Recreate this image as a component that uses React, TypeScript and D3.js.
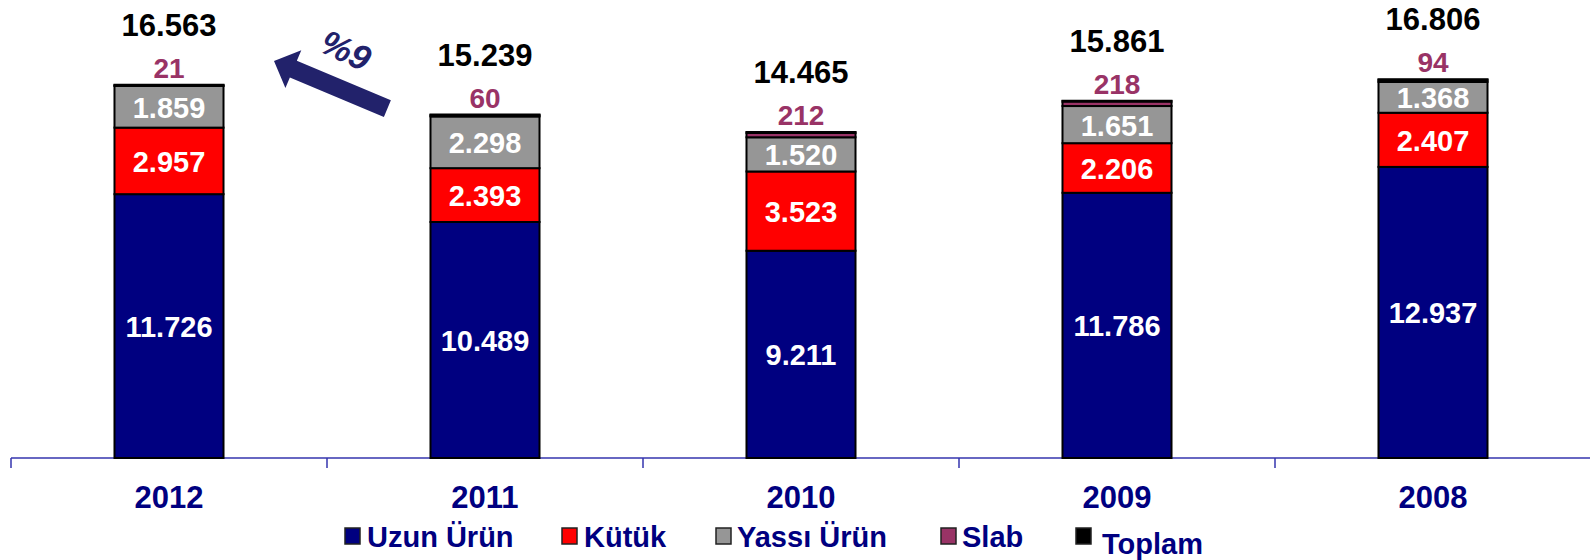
import React from "react";
import * as d3 from "d3";

const years = ["2012", "2011", "2010", "2009", "2008"];
const uzun = [11726, 10489, 9211, 11786, 12937];
const kutuk = [2957, 2393, 3523, 2206, 2407];
const yassi = [1859, 2298, 1520, 1651, 1368];
const slab = [21, 60, 212, 218, 94];
const toplam = [16563, 15239, 14465, 15861, 16806];

const seriesNames = ["Uzun Ürün", "Kütük", "Yassı Ürün", "Slab", "Toplam"];
const seriesColors = ["#000080", "#FF0000", "#969696", "#993366", "#000000"];

const W = 1590;
const H = 560;
const FONT = "'Liberation Sans', Arial, Helvetica, sans-serif";
const NAVY = "#000080";

const locale = d3.formatLocale({ decimal: ",", thousands: ".", grouping: [3], currency: ["", ""] });
const fmt = locale.format(",d");

export default function App() {
  const x = d3.scaleBand<string>().domain(years).range([11, 1591]).paddingInner(0.655).paddingOuter(0.3275);
  const y = d3.scaleLinear().domain([0, 20000]).range([458, 8]);
  const step = x.step();
  const bw = x.bandwidth();

  const rows = years.map((yr, i) => ({ year: yr, Uzun: uzun[i], Kutuk: kutuk[i], Yassi: yassi[i], Slab: slab[i] }));
  const keys = ["Uzun", "Kutuk", "Yassi", "Slab"];
  const stack = d3.stack<any>().keys(keys)(rows);

  const legendItems = [
    { mx: 345, tx: 367 },
    { mx: 562, tx: 584 },
    { mx: 716, tx: 737 },
    { mx: 941, tx: 962 },
    { mx: 1076, tx: 1102 },
  ];

  return (
    <svg width={W} height={H} style={{ position: "absolute", left: 0, top: 0, display: "block", background: "#fff" }} fontFamily={FONT}>
      {/* axis */}
      <line x1={11} x2={W} y1={y(0)} y2={y(0)} stroke="#3434AE" strokeWidth={1.5} />
      {d3.range(years.length + 1).map((i) => (
        <line key={i} x1={11 + i * step} x2={11 + i * step} y1={y(0)} y2={y(0) + 10} stroke="#3434AE" strokeWidth={1.5} />
      ))}
      {/* bars */}
      {stack.map((layer, li) =>
        layer.map((d, i) => {
          const x0 = x(years[i])!;
          const y0 = y(d[1]);
          const h = y(d[0]) - y(d[1]);
          return (
            <rect key={li + "-" + i} x={x0} y={y0} width={bw} height={h} fill={seriesColors[li]} stroke="#000" strokeWidth={2} />
          );
        })
      )}
      {/* toplam top line */}
      {years.map((yr, i) => (
        <line key={"t" + i} x1={x(yr)! - 1} x2={x(yr)! + bw + 1} y1={y(toplam[i])} y2={y(toplam[i])} stroke="#000" strokeWidth={3} />
      ))}
      {/* segment labels */}
      {stack.slice(0, 3).map((layer, li) =>
        layer.map((d, i) => (
          <text key={"l" + li + i} x={x(years[i])! + bw / 2} y={(y(d[0]) + y(d[1])) / 2 + 1} textAnchor="middle" dominantBaseline="central" fill="#fff" fontWeight="bold" fontSize={29}>
            {fmt(d[1] - d[0])}
          </text>
        ))
      )}
      {/* slab labels */}
      {years.map((yr, i) => (
        <text key={"s" + i} x={x(yr)! + bw / 2} y={y(toplam[i]) - 17} textAnchor="middle" dominantBaseline="central" fill="#993366" fontWeight="bold" fontSize={28}>
          {fmt(slab[i])}
        </text>
      ))}
      {/* totals */}
      {years.map((yr, i) => (
        <text key={"T" + i} x={x(yr)! + bw / 2} y={y(toplam[i]) - 60} textAnchor="middle" dominantBaseline="central" fill="#000" fontWeight="bold" fontSize={31}>
          {fmt(toplam[i])}
        </text>
      ))}
      {/* x labels */}
      {years.map((yr) => (
        <text key={"x" + yr} x={x(yr)! + bw / 2} y={497} textAnchor="middle" dominantBaseline="central" fill={NAVY} fontWeight="bold" fontSize={31}>
          {yr}
        </text>
      ))}
      {/* arrow */}
      <g transform="translate(274,61) rotate(22.8)">
        <path d="M0,0 L21,-20.5 L21,-9 L123,-9 L123,9 L21,9 L21,20.5 Z" fill="#22226B" />
      </g>
      <text x={346} y={50} transform="rotate(25,346,50)" textAnchor="middle" dominantBaseline="central" fill="#22226B" fontWeight="bold" fontStyle="italic" fontSize={35}>
        %9
      </text>
      {/* legend */}
      {seriesNames.map((name, i) => (
        <g key={"lg" + i}>
          <rect x={legendItems[i].mx} y={528} width={15} height={16} fill={seriesColors[i]} stroke="#222" strokeWidth={1.5} />
          <text x={legendItems[i].tx} y={i === 4 ? 544 : 537} dominantBaseline="central" fill={NAVY} fontWeight="bold" fontSize={29}>
            {name}
          </text>
        </g>
      ))}
    </svg>
  );
}
